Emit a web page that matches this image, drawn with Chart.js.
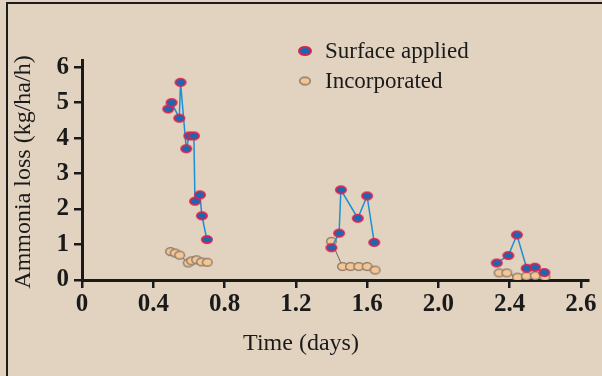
<!DOCTYPE html>
<html>
<head>
<meta charset="utf-8">
<script src="https://cdn.jsdelivr.net/npm/chart.js@4"></script>
<style>
  html, body { margin: 0; padding: 0; background: #e2d3c0; }
  #wrap { width: 602px; height: 376px; }
</style>
</head>
<body>
<div id="wrap"><canvas id="ammoniaChart" width="602" height="376"></canvas></div>
<script>
// time in days, null separates the three application periods
const surfaceTime = [0.484, 0.503, 0.546, 0.553, 0.585, 0.602, 0.628, 0.634, 0.662, 0.673, 0.701, 1.0,
    1.400, 1.443, 1.453, 1.548, 1.600, 1.640, 2.0,
    2.328, 2.393, 2.441, 2.496, 2.542, 2.595];
const surfaceLoss = [4.82, 5.00, 4.56, 5.57, 3.70, 4.06, 4.06, 2.22, 2.40, 1.81, 1.14, null,
    0.91, 1.32, 2.54, 1.74, 2.37, 1.06, null,
    0.48, 0.69, 1.27, 0.33, 0.36, 0.21];

const incorpTime = [0.497, 0.523, 0.548, 0.596, 0.615, 0.643, 0.671, 0.703, 1.0,
    1.400, 1.462, 1.507, 1.553, 1.600, 1.645, 2.0,
    2.341, 2.384, 2.444, 2.494, 2.544, 2.598];
const incorpLoss = [0.80, 0.76, 0.70, 0.48, 0.54, 0.57, 0.51, 0.50, null,
    1.09, 0.38, 0.38, 0.38, 0.38, 0.28, null,
    0.20, 0.20, 0.08, 0.11, 0.12, 0.09];

const seriesNames = ['Surface applied', 'Incorporated'];

// tick values and their printed labels (last one printed as in the original figure)
const xTickValues = [0, 0.4, 0.8, 1.2, 1.6, 2.0, 2.4, 2.8];
const xTickLabels = ['0', '0.4', '0.8', '1.2', '1.6', '2.0', '2.4', '2.6'];
const yTickValues = [0, 1, 2, 3, 4, 5, 6];

const axisTitleX = 'Time (days)';
const axisTitleY = 'Ammonia loss (kg/ha/h)';

const toPoints = (xs, ys) => xs.map((x, i) => ({ x: x, y: ys[i] }));

// small flat ellipse markers like the printed figure
function makeMarker(w, h, fill, stroke, lw) {
    const cv = document.createElement('canvas');
    cv.width = w + 2;
    cv.height = h + 2;
    const c = cv.getContext('2d');
    c.beginPath();
    c.ellipse(cv.width / 2, cv.height / 2, w / 2 - lw / 2, h / 2 - lw / 2, 0, 0, Math.PI * 2);
    c.fillStyle = fill;
    c.fill();
    c.lineWidth = lw;
    c.strokeStyle = stroke;
    c.stroke();
    return cv;
}

const surfaceMarker = makeMarker(12, 9, '#1769b6', '#d8234f', 1.8);
const incorpMarker = makeMarker(11, 9, '#f5c691', '#85766a', 1.3);
const legendMarkers = [
    makeMarker(14, 10, '#1769b6', '#d8234f', 2),
    makeMarker(12, 9, '#f5c691', '#85766a', 1.4)
];

Chart.defaults.font.family = "'Liberation Serif', 'DejaVu Serif', serif";
Chart.defaults.color = '#1a1a1a';

// frame, titles and legend drawn straight on the canvas
const decorations = {
    id: 'decorations',
    beforeDraw(chart) {
        const c = chart.ctx;
        c.save();
        c.fillStyle = '#e2d3c0';
        c.fillRect(0, 0, chart.width, chart.height);
        c.strokeStyle = '#1c1c1c';
        c.lineWidth = 2;
        c.beginPath();
        c.moveTo(7, chart.height);
        c.lineTo(7, 3);
        c.lineTo(chart.width, 3);
        c.stroke();
        c.restore();
    },
    afterDraw(chart) {
        const c = chart.ctx;
        c.save();
        c.fillStyle = '#1a1a1a';
        c.textAlign = 'center';
        c.textBaseline = 'middle';
        c.font = "24px 'Liberation Serif'";
        c.fillText(axisTitleX, 301, 344);
        c.translate(24, 172);
        c.rotate(-Math.PI / 2);
        c.fillText(axisTitleY, 0, 0);
        c.restore();

        c.save();
        const rows = [51, 81];
        chart.data.datasets.forEach((ds, i) => {
            const img = legendMarkers[i];
            c.drawImage(img, 305 - img.width / 2, rows[i] - img.height / 2);
            c.fillStyle = '#1a1a1a';
            c.font = "23px 'Liberation Serif'";
            c.textAlign = 'left';
            c.textBaseline = 'middle';
            c.fillText(ds.label, 325, rows[i] + 1);
        });
        c.restore();
    }
};

const ctx = document.getElementById('ammoniaChart').getContext('2d');

new Chart(ctx, {
    type: 'line',
    data: {
        datasets: [
            {
                label: seriesNames[0],
                data: toPoints(surfaceTime, surfaceLoss),
                borderColor: '#1d8fd3',
                borderWidth: 1.5,
                pointStyle: surfaceMarker,
                spanGaps: false
            },
            {
                label: seriesNames[1],
                data: toPoints(incorpTime, incorpLoss),
                borderColor: '#6f645b',
                borderWidth: 1,
                pointStyle: incorpMarker,
                spanGaps: false
            }
        ]
    },
    options: {
        responsive: false,
        animation: false,
        devicePixelRatio: 1,
        layout: {
            padding: { top: 60, right: 14, left: 0, bottom: 0 }
        },
        plugins: {
            legend: { display: false },
            tooltip: { enabled: false }
        },
        scales: {
            x: {
                type: 'linear',
                min: 0,
                max: 2.84,
                afterFit: (scale) => { scale.height = 96; },
                afterBuildTicks: (scale) => {
                    scale.ticks = xTickValues.map(v => ({ value: v }));
                },
                ticks: {
                    autoSkip: false,
                    maxRotation: 0,
                    padding: 2,
                    color: '#1a1a1a',
                    font: { size: 25, weight: 'bold' },
                    callback: function (value, index) {
                        return xTickLabels[index];
                    }
                },
                grid: {
                    drawOnChartArea: false,
                    drawTicks: true,
                    tickLength: 8,
                    color: '#1a1a1a',
                    lineWidth: 2.5
                },
                border: { display: true, color: '#1a1a1a', width: 3 }
            },
            y: {
                min: 0,
                max: 6.2,
                afterFit: (scale) => { scale.width = 82; },
                afterBuildTicks: (scale) => {
                    scale.ticks = yTickValues.map(v => ({ value: v }));
                },
                ticks: {
                    padding: 5,
                    color: '#1a1a1a',
                    font: { size: 25, weight: 'bold' }
                },
                grid: {
                    drawOnChartArea: false,
                    drawTicks: true,
                    tickLength: 8,
                    color: '#1a1a1a',
                    lineWidth: 2.5
                },
                border: { display: true, color: '#1a1a1a', width: 3 }
            }
        }
    },
    plugins: [decorations]
});
</script>
</body>
</html>
